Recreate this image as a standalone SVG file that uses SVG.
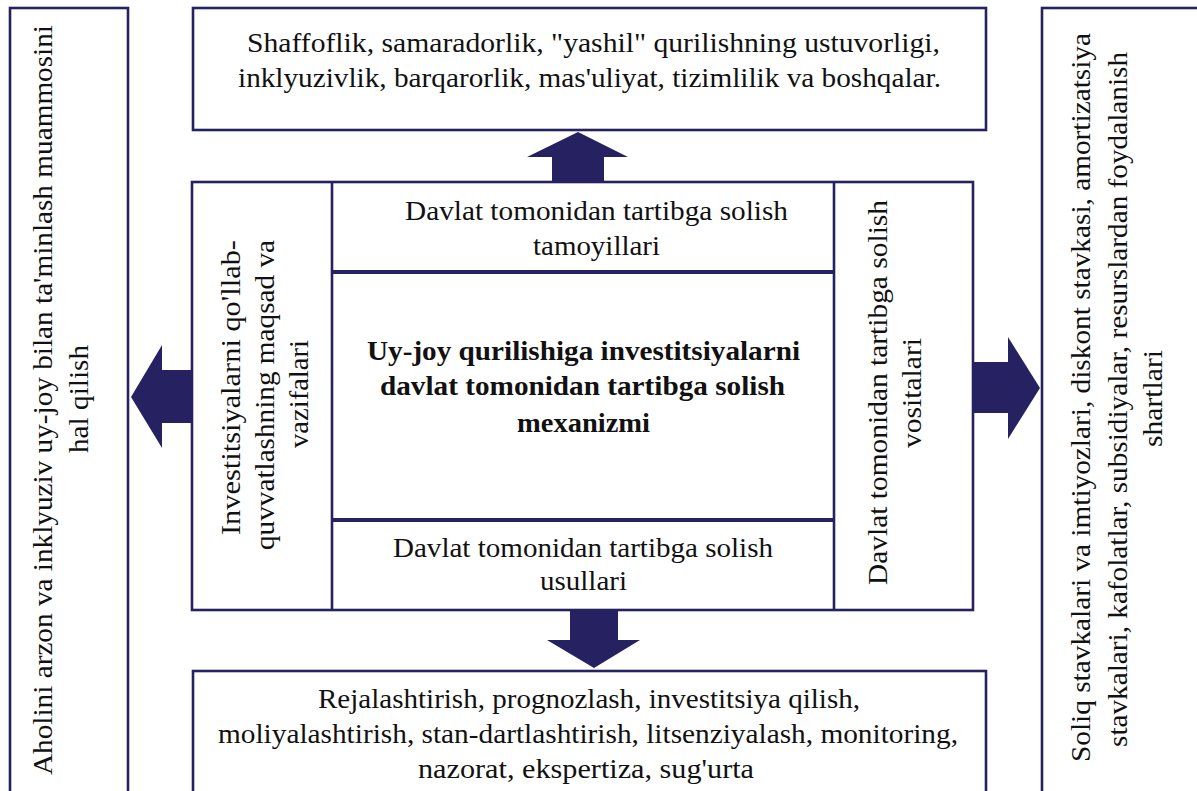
<svg xmlns="http://www.w3.org/2000/svg" width="1197" height="791" viewBox="0 0 1197 791">
<style>
.box{fill:#ffffff;stroke:#262262;stroke-width:2.6}
.div{stroke:#262262;stroke-width:3.8;fill:none}
.arr{fill:#262262;stroke:none}
.t{font-family:"Liberation Serif","Times New Roman",serif;font-size:27px;fill:#111111}
.b{font-weight:bold}
</style>
<rect width="1197" height="791" fill="#ffffff"/>
<g id="connectors">
<polygon class="arr" points="552,182 552,157 527,157 578,132 628,157 604,157 604,182"/>
<polygon class="arr" points="570,610 570,640 547,640 594,668 640,640 618,640 618,610"/>
<polygon class="arr" points="192,370 162,370 162,345 131,397 162,448 162,423 192,423"/>
<polygon class="arr" points="973,362 1008,362 1008,337 1040,388 1008,439 1008,413 973,413"/>
</g>
<g id="node-left-goal">
<rect class="box" x="10" y="8" width="118" height="810"/>
<g transform="rotate(-90)">
<text class="t" x="-775" y="52" textLength="750" lengthAdjust="spacingAndGlyphs">Aholini arzon va inklyuziv uy-joy bilan ta'minlash muammosini</text>
<text class="t" x="-453" y="88" textLength="108" lengthAdjust="spacingAndGlyphs">hal qilish</text>
</g>
</g>
<g id="node-principles-list">
<rect class="box" x="193" y="8" width="793" height="122"/>
<text class="t" x="247" y="52" textLength="693" lengthAdjust="spacingAndGlyphs">Shaffoflik, samaradorlik, "yashil" qurilishning ustuvorligi,</text>
<text class="t" x="238" y="87" textLength="703" lengthAdjust="spacingAndGlyphs">inklyuzivlik, barqarorlik, mas'uliyat, tizimlilik va boshqalar.</text>
</g>
<g id="node-mechanism">
<rect class="box" x="192" y="182" width="781" height="428"/>
<line class="box" x1="332" y1="182" x2="332" y2="610"/>
<line class="box" x1="834" y1="182" x2="834" y2="610"/>
<line class="div" x1="332" y1="272" x2="834" y2="272"/>
<line class="div" x1="332" y1="520" x2="834" y2="520"/>
</g>
<g id="node-goals">
<g transform="rotate(-90)">
<text class="t" x="-535" y="240" textLength="295" lengthAdjust="spacingAndGlyphs">Investitsiyalarni qo'llab-</text>
<text class="t" x="-550" y="274" textLength="310" lengthAdjust="spacingAndGlyphs">quvvatlashning maqsad va</text>
<text class="t" x="-448" y="308" textLength="108" lengthAdjust="spacingAndGlyphs">vazifalari</text>
</g>
</g>
<g id="node-principles">
<text class="t" x="405" y="220" textLength="383" lengthAdjust="spacingAndGlyphs">Davlat tomonidan tartibga solish</text>
<text class="t" x="533" y="255" textLength="127" lengthAdjust="spacingAndGlyphs">tamoyillari</text>
</g>
<g id="node-center">
<text class="t b" x="367" y="360" textLength="433" lengthAdjust="spacingAndGlyphs">Uy-joy qurilishiga investitsiyalarni</text>
<text class="t b" x="380" y="395" textLength="405" lengthAdjust="spacingAndGlyphs">davlat tomonidan tartibga solish</text>
<text class="t b" x="517" y="432" textLength="133" lengthAdjust="spacingAndGlyphs">mexanizmi</text>
</g>
<g id="node-methods">
<text class="t" x="393" y="557" textLength="380" lengthAdjust="spacingAndGlyphs">Davlat tomonidan tartibga solish</text>
<text class="t" x="540" y="590" textLength="87" lengthAdjust="spacingAndGlyphs">usullari</text>
</g>
<g id="node-tools">
<g transform="rotate(-90)">
<text class="t" x="-585" y="887" textLength="385" lengthAdjust="spacingAndGlyphs">Davlat tomonidan tartibga solish</text>
<text class="t" x="-448" y="921" textLength="110" lengthAdjust="spacingAndGlyphs">vositalari</text>
</g>
</g>
<g id="node-methods-list">
<rect class="box" x="193" y="671" width="793" height="150"/>
<text class="t" x="318" y="708" textLength="542" lengthAdjust="spacingAndGlyphs">Rejalashtirish, prognozlash, investitsiya qilish,</text>
<text class="t" x="218" y="743" textLength="740" lengthAdjust="spacingAndGlyphs">moliyalashtirish, stan-dartlashtirish, litsenziyalash, monitoring,</text>
<text class="t" x="418" y="778" textLength="336" lengthAdjust="spacingAndGlyphs">nazorat, ekspertiza, sug'urta</text>
</g>
<g id="node-tools-list">
<rect class="box" x="1042" y="8" width="200" height="810"/>
<g transform="rotate(-90)">
<text class="t" x="-762" y="1090" textLength="729" lengthAdjust="spacingAndGlyphs">Soliq stavkalari va imtiyozlari, diskont stavkasi, amortizatsiya</text>
<text class="t" x="-747" y="1127" textLength="695" lengthAdjust="spacingAndGlyphs">stavkalari, kafolatlar, subsidiyalar, resurslardan foydalanish</text>
<text class="t" x="-447" y="1162" textLength="97" lengthAdjust="spacingAndGlyphs">shartlari</text>
</g>
</g>
</svg>
